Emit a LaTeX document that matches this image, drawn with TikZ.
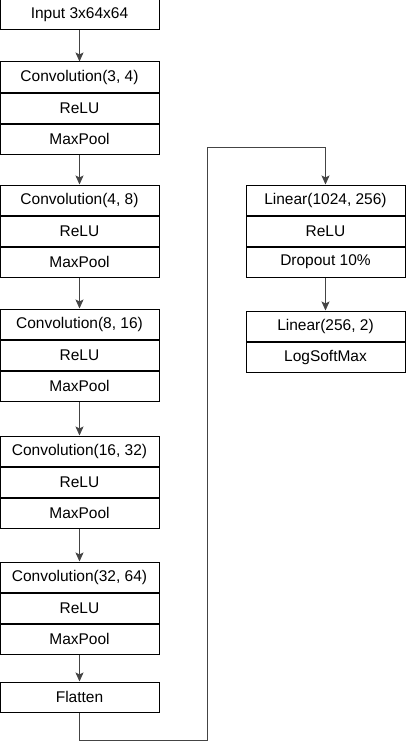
\documentclass[tikz,border=0pt]{standalone}
\usepackage{fontspec}
\setmainfont{Liberation Sans}
\usetikzlibrary{arrows.meta,positioning}
\definecolor{edge}{HTML}{000000}
\definecolor{wire}{HTML}{444444}

\begin{document}
\begin{tikzpicture}[x=1pt, y=1pt,
  layer/.style={rectangle, draw=edge, line width=1pt, fill=white, minimum width=159pt, minimum height=30pt, inner sep=0pt, align=center, font=\fontsize{15.5}{18}\selectfont},
  arr/.style={-{Stealth[length=9pt, width=8pt, inset=2pt]}, wire, line width=1pt}
]
  \useasboundingbox (0,0) rectangle (406,-752);

  % Input
  \node[layer] (in) at (79.5, -15) {Input 3x64x64};

  % Convolution blocks
  \node[layer] (c1a) at (79.5, -77) {Convolution(3, 4)};
  \node[layer, below=0pt of c1a] (c1b) {ReLU};
  \node[layer, below=0pt of c1b] (c1c) {MaxPool};

  \node[layer] (c2a) at (79.5, -200) {Convolution(4, 8)};
  \node[layer, below=0pt of c2a] (c2b) {ReLU};
  \node[layer, below=0pt of c2b] (c2c) {MaxPool};

  \node[layer] (c3a) at (79.5, -324) {Convolution(8, 16)};
  \node[layer, below=0pt of c3a] (c3b) {ReLU};
  \node[layer, below=0pt of c3b] (c3c) {MaxPool};

  \node[layer] (c4a) at (79.5, -451) {Convolution(16, 32)};
  \node[layer, below=0pt of c4a] (c4b) {ReLU};
  \node[layer, below=0pt of c4b] (c4c) {MaxPool};

  \node[layer] (c5a) at (79.5, -577) {Convolution(32, 64)};
  \node[layer, below=0pt of c5a] (c5b) {ReLU};
  \node[layer, below=0pt of c5b] (c5c) {MaxPool};

  \node[layer] (fl) at (79.5, -697) {Flatten};

  % Linear blocks
  \node[layer] (l1a) at (325.5, -200) {Linear(1024, 256)};
  \node[layer, below=0pt of l1a] (l1b) {ReLU};
  \node[layer, below=0pt of l1b] (l1c) {Dropout 10\%};

  \node[layer] (l2a) at (325.5, -326) {Linear(256, 2)};
  \node[layer, below=0pt of l2a] (l2b) {LogSoftMax};

  % Connections
  \draw[arr] (in.south) -- (c1a.north);
  \draw[arr] (c1c.south) -- (c2a.north);
  \draw[arr] (c2c.south) -- (c3a.north);
  \draw[arr] (c3c.south) -- (c4a.north);
  \draw[arr] (c4c.south) -- (c5a.north);
  \draw[arr] (c5c.south) -- (fl.north);
  \coordinate (bendA) at (207.5, -740);
  \coordinate (bendB) at (207.5, -147);
  \draw[arr] (fl.south) |- (bendA) -- (bendB) -| (l1a.north);
  \draw[arr] (l1c.south) -- (l2a.north);
\end{tikzpicture}
\end{document}
